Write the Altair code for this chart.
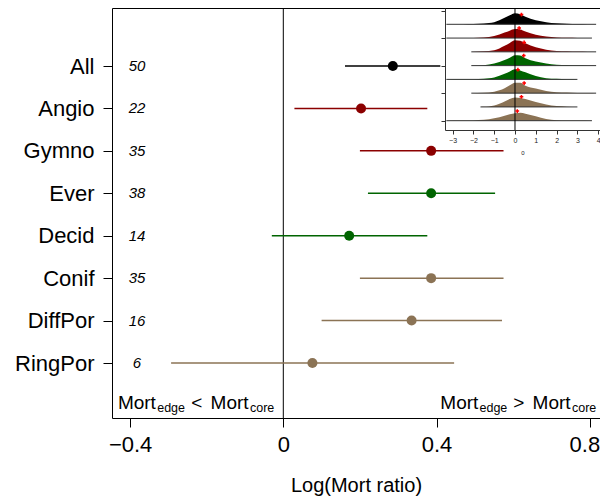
import altair as alt
import pandas as pd

FONT = "Liberation Sans"

# ---------------- main forest plot data ----------------
cats = ["All", "Angio", "Gymno", "Ever", "Decid", "Conif", "DiffPor", "RingPor"]
n_obs = [50, 22, 35, 38, 14, 35, 16, 6]
est = [0.286, 0.203, 0.386, 0.386, 0.172, 0.386, 0.335, 0.076]
ci_lo = [0.161, 0.029, 0.200, 0.221, -0.030, 0.200, 0.100, -0.293]
ci_hi = [0.410, 0.376, 0.575, 0.553, 0.376, 0.575, 0.571, 0.446]
cat_colors = ["#000000", "#8B0000", "#8B0000", "#006400", "#006400",
              "#8B7355", "#8B7355", "#8B7355"]
x_ticks = [-0.4, 0, 0.4, 0.8]

# ---------------- inset ridgeline data (density heights in row units) ----------------
dens_x = [
    [-3.3, -2.5, -2, -1.5, -1, -0.5, -0.25, 0, 0.25, 0.5, 1, 1.5, 2, 2.5, 3, 3.5, 3.9],
    [-3.3, -2.5, -2, -1.5, -1, -0.5, -0.25, 0, 0.25, 0.5, 1, 1.5, 2, 2.5, 3, 3.7],
    [-2.1, -1.5, -1, -0.5, -0.25, 0, 0.25, 0.5, 1, 1.5, 2, 2.5, 3, 3.5, 3.9],
    [-2.1, -1.5, -1, -0.5, -0.25, 0, 0.25, 0.5, 1, 1.5, 2, 2.5, 3, 3.5, 3.9],
    [-3.3, -2.5, -2, -1.5, -1, -0.5, -0.25, 0, 0.25, 0.5, 1, 1.5, 2, 2.5, 3.0],
    [-2.1, -1.5, -1, -0.5, -0.25, 0, 0.25, 0.5, 1, 1.5, 2, 2.5, 3, 3.5, 3.9],
    [-1.66, -1.5, -1, -0.5, -0.25, 0, 0.25, 0.5, 1, 1.5, 2, 2.5, 3.0],
    [-3.3, -2.5, -2, -1.5, -1, -0.5, -0.25, 0, 0.25, 0.5, 1, 1.5, 2, 2.5, 3, 3.7],
]
dens_h = [
    [0, .01, .02, .06, .15, .47, .65, .80, .73, .54, .29, .15, .07, .04, .02, .01, 0],
    [0, .01, .01, .04, .15, .40, .54, .65, .62, .47, .25, .11, .05, .02, .01, 0],
    [0, .04, .11, .44, .65, .84, .80, .62, .33, .16, .07, .04, .02, .01, 0],
    [0, .03, .15, .40, .58, .76, .73, .54, .29, .15, .07, .04, .02, .01, 0],
    [0, .01, .01, .04, .13, .40, .58, .73, .65, .51, .25, .09, .04, .01, 0],
    [0, .03, .11, .36, .58, .76, .76, .54, .33, .16, .07, .04, .02, .01, 0],
    [0, .01, .11, .40, .58, .69, .65, .58, .36, .18, .06, .02, 0],
    [0, .01, .02, .06, .17, .36, .47, .54, .58, .51, .33, .12, .04, .01, .01, 0],
]
star_x = [0.31, 0.20, 0.44, 0.42, 0.14, 0.44, 0.31, 0.11]
star_h = [0.71, 0.73, 0.68, 0.73, 0.70, 0.73, 0.73, 0.70]
inset_ticks = [-3, -2, -1, 0, 1, 2, 3, 4]
inset_yticks = [0, 2, 4, 6, 8]

# ---------------- tables ----------------
main_df = pd.DataFrame({"cat": cats, "n": n_obs, "est": est, "lo": ci_lo, "hi": ci_hi})

rows = []
for i, c in enumerate(cats):
    for xv, hv in zip(dens_x[i], dens_h[i]):
        rows.append({"cat": c, "k": i + 1, "x": xv, "top": i + 1 - hv})
dens_df = pd.DataFrame(rows)
base_df = pd.DataFrame({"cat": cats, "k": list(range(1, 9)),
                        "xmin": [d[0] for d in dens_x], "xmax": [d[-1] for d in dens_x]})
star_df = pd.DataFrame({"cat": cats, "x": star_x,
                        "y": [i + 1 - h for i, h in enumerate(star_h)]})

# ---------------- scales ----------------
W, H = 488, 410
xs = alt.Scale(domain=[-0.4473, 0.8269], nice=False, zero=False)
ys = alt.Scale(type="point", domain=cats, range=[58, 355], padding=0)
cs = alt.Scale(domain=cats, range=cat_colors)
ixs = alt.Scale(domain=[-3.365, 4.087], range=[333, W], nice=False, zero=False)
iys = alt.Scale(domain=[-0.184, 8.676], range=[0, 122], nice=False, zero=False)

# ---------------- main layers ----------------
base = alt.Chart(main_df)
ci = base.mark_rule(strokeWidth=1.5).encode(
    x=alt.X("lo:Q", scale=xs,
            axis=alt.Axis(values=x_ticks, format=".1~f", title="Log(Mort ratio)",
                          labelFontSize=22, titleFontSize=20, tickSize=9,
                          labelPadding=7, titlePadding=20, domain=False, grid=False,
                          labelAlign={"condition": {"test": "datum.value > 0.7",
                                                    "value": "right"},
                                      "value": "center"},
                          labelOffset={"condition": {"test": "datum.value > 0.7",
                                                     "value": 10},
                                       "value": 0})),
    x2="hi:Q",
    y=alt.Y("cat:N", scale=ys,
            axis=alt.Axis(title=None, labelFontSize=22, tickSize=9, labelPadding=9,
                          domain=False, grid=False)),
    color=alt.Color("cat:N", scale=cs, legend=None),
)
pts = base.mark_circle(size=100, opacity=1).encode(
    x=alt.X("est:Q", scale=xs),
    y=alt.Y("cat:N", scale=ys),
    color=alt.Color("cat:N", scale=cs, legend=None),
)
ntext = base.mark_text(font=FONT, fontStyle="italic", fontSize=15, color="black",
                       align="center", baseline="middle").encode(
    x=alt.value(25), y=alt.Y("cat:N", scale=ys), text="n:Q")
zero = alt.Chart(pd.DataFrame({"v": [0]})).mark_rule(color="black", strokeWidth=1).encode(
    x=alt.X("v:Q", scale=xs))


def piece(txt, x, y, size, align="left"):
    return alt.Chart(pd.DataFrame({"t": [txt]})).mark_text(
        font=FONT, fontSize=size, align=align, baseline="alphabetic", color="black"
    ).encode(text="t:N", x=alt.value(x), y=alt.value(y))


MB, SB, MS, SS = 400.7, 403.8, 19, 12.5
notes = [
    piece("Mort", 5.9, MB, MS), piece("edge", 45.2, SB, SS),
    piece("<", 84.7, MB, MS, "center"), piece("Mort", 98.6, MB, MS), piece("core", 138, SB, SS),
    piece("Mort", 328.3, MB, MS), piece("edge", 367.5, SB, SS),
    piece(">", 406.7, MB, MS, "center"), piece("Mort", 420.6, MB, MS), piece("core", 460, SB, SS),
]

main_layer = alt.layer(zero, ci, pts, ntext, *notes)

# ---------------- inset layers ----------------
area = alt.Chart(dens_df).mark_area(interpolate="monotone", opacity=1).encode(
    x=alt.X("x:Q", scale=ixs,
            axis=alt.Axis(orient="bottom", offset=-288, values=inset_ticks, format="d",
                          tickSize=4, labelFontSize=7, labelPadding=2, labelColor="#222",
                          tickColor="#333", domainColor="#333", title="0",
                          titleFontSize=6, titlePadding=6, titleColor="#222",
                          titleFontWeight="normal", zindex=1, grid=False)),
    y=alt.Y("top:Q", scale=iys,
            axis=alt.Axis(orient="left", offset=-333, values=inset_yticks, tickSize=4,
                          labels=False, title=None, domainColor="#333",
                          tickColor="#333", zindex=1, grid=False)),
    y2="k:Q",
    color=alt.Color("cat:N", scale=cs, legend=None),
    detail="cat:N",
)
baselines = alt.Chart(base_df).mark_rule(color="#333", strokeWidth=1).encode(
    x=alt.X("xmin:Q", scale=ixs), x2="xmax:Q", y=alt.Y("k:Q", scale=iys))
izero = alt.Chart(pd.DataFrame({"v": [0]})).mark_rule(color="black", strokeWidth=1).encode(
    x=alt.X("v:Q", scale=ixs), y=alt.value(0), y2=alt.value(122))
stars = alt.Chart(star_df).mark_point(shape="cross", filled=True, size=14, color="red",
                                      opacity=1).encode(
    x=alt.X("x:Q", scale=ixs), y=alt.Y("y:Q", scale=iys))

inset_layer = alt.layer(area, baselines, izero, stars)

chart = (
    alt.layer(main_layer, inset_layer)
    .resolve_scale(x="independent", y="independent")
    .properties(width=W, height=H,
                autosize=alt.AutoSizeParams(type="none"),
                padding={"left": 104, "top": 0, "right": 0, "bottom": 84})
    .configure_view(stroke="black", strokeWidth=1)
    .configure_axis(labelFont=FONT, titleFont=FONT, labelColor="black",
                    titleColor="black", tickColor="black", titleFontWeight="normal")
)

chart.save("out.html", embed_options={"renderer": "svg", "actions": False})
